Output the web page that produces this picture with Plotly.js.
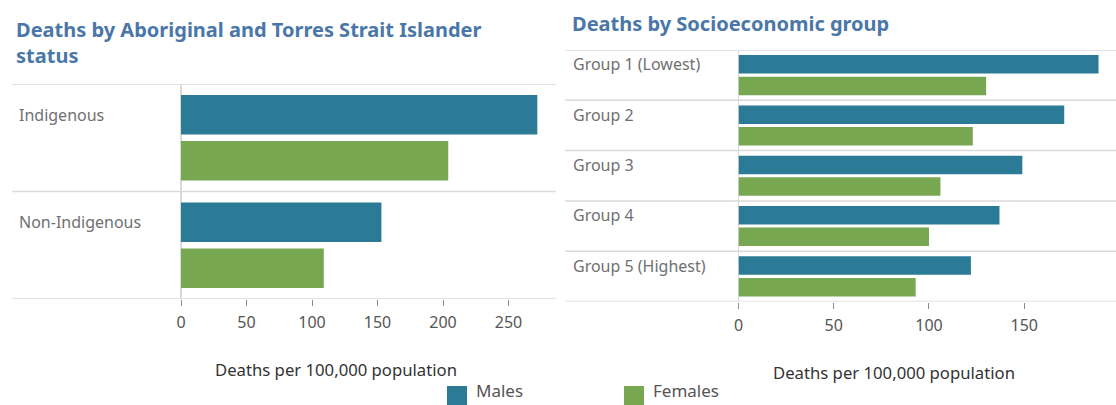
<!DOCTYPE html>
<html>
<head>
<meta charset="utf-8">
<script src="https://cdn.plot.ly/plotly-3.0.1.min.js"></script>
<style>
  html, body { margin: 0; padding: 0; background: #ffffff; }
  #chart { width: 1116px; height: 405px; }
</style>
</head>
<body>
<div id="chart"></div>
<script>
// ---- Data ----
const statusCategories = ['Indigenous', 'Non-Indigenous'];
const statusMales = [272, 153];
const statusFemales = [204, 109];

const sesCategories = ['Group 1 (Lowest)', 'Group 2', 'Group 3', 'Group 4', 'Group 5 (Highest)'];
const sesMales = [189, 171, 149, 137, 122];
const sesFemales = [130, 123, 106, 100, 93];

const leftTicks = [0, 50, 100, 150, 200, 250];
const rightTicks = [0, 50, 100, 150];

const seriesNames = ['Males', 'Females'];
const leftTitle = 'Deaths by Aboriginal and Torres Strait Islander<br>status';
const rightTitle = 'Deaths by Socioeconomic group';
const axisTitle = 'Deaths per 100,000 population';

// ---- Style ----
const W = 1116, H = 405;
const FONT = 'Noto Sans, Open Sans, sans-serif';
const MALE = '#2b7b96';
const FEMALE = '#78a752';
const GRID = '#dadada';
const px = v => v / W;
const py = v => 1 - v / H;

const traces = [
  { type: 'bar', orientation: 'h', name: seriesNames[0], y: statusCategories, x: statusMales,
    xaxis: 'x', yaxis: 'y', marker: { color: MALE }, showlegend: false, hoverinfo: 'x+y' },
  { type: 'bar', orientation: 'h', name: seriesNames[1], y: statusCategories, x: statusFemales,
    xaxis: 'x', yaxis: 'y', marker: { color: FEMALE }, showlegend: false, hoverinfo: 'x+y' },
  { type: 'bar', orientation: 'h', name: seriesNames[0], y: sesCategories, x: sesMales,
    xaxis: 'x2', yaxis: 'y2', marker: { color: MALE }, showlegend: false, hoverinfo: 'x+y' },
  { type: 'bar', orientation: 'h', name: seriesNames[1], y: sesCategories, x: sesFemales,
    xaxis: 'x2', yaxis: 'y2', marker: { color: FEMALE }, showlegend: false, hoverinfo: 'x+y' }
];

const xCommon = {
  showgrid: false, showline: false,
  zeroline: true, zerolinecolor: GRID, zerolinewidth: 1.5,
  ticks: 'outside', ticklen: 6, tickwidth: 1, tickcolor: '#8a8a8a',
  ticklabelstandoff: 3,
  tickfont: { family: FONT, size: 16, color: '#555555' },
  tickmode: 'array', fixedrange: true
};

const shapes = [];
const annotations = [];

// row separators (category boundaries) extended across the label area
function separators(cats, yref, x0, x1) {
  for (let i = 0; i <= cats.length; i++) {
    shapes.push({ type: 'line', xref: 'paper', yref: yref, x0: x0, x1: x1,
      y0: i - 0.5, y1: i - 0.5, line: { color: GRID, width: 1.5 } });
  }
}
separators(statusCategories, 'y', px(12), px(556));
separators(sesCategories, 'y2', px(565), 1);

// category labels next to the top (male) bar of each row
const maleOffset = -0.215;
const catFont = { family: FONT, size: 16, color: '#707070' };
statusCategories.forEach((c, i) => annotations.push({
  xref: 'paper', yref: 'y', x: px(17), y: i + maleOffset, text: c, showarrow: false,
  xanchor: 'left', yanchor: 'middle', font: catFont
}));
sesCategories.forEach((c, i) => annotations.push({
  xref: 'paper', yref: 'y2', x: px(571), y: i + maleOffset, text: c, showarrow: false,
  xanchor: 'left', yanchor: 'middle', font: catFont
}));

// chart titles
annotations.push({ xref: 'paper', yref: 'paper', x: px(14), y: py(14), text: '<b>' + leftTitle + '</b>',
  showarrow: false, xanchor: 'left', yanchor: 'top', align: 'left',
  font: { family: FONT, size: 20, color: '#4a77a8' } });
annotations.push({ xref: 'paper', yref: 'paper', x: px(570), y: py(8), text: '<b>' + rightTitle + '</b>',
  showarrow: false, xanchor: 'left', yanchor: 'top', align: 'left',
  font: { family: FONT, size: 20, color: '#4a77a8' } });

// axis titles
const axTitleFont = { family: FONT, size: 16.7, color: '#333333' };
annotations.push({ xref: 'paper', yref: 'paper', x: px(336), y: py(369), text: axisTitle,
  showarrow: false, xanchor: 'center', yanchor: 'middle', font: axTitleFont });
annotations.push({ xref: 'paper', yref: 'paper', x: px(894), y: py(372), text: axisTitle,
  showarrow: false, xanchor: 'center', yanchor: 'middle', font: axTitleFont });

// legend
const legendItems = [
  { name: seriesNames[0], color: MALE, x: 447 },
  { name: seriesNames[1], color: FEMALE, x: 624 }
];
legendItems.forEach(it => {
  shapes.push({ type: 'rect', xref: 'paper', yref: 'paper', x0: px(it.x), x1: px(it.x + 20),
    y0: py(405), y1: py(386), fillcolor: it.color, line: { width: 0 } });
  annotations.push({ xref: 'paper', yref: 'paper', x: px(it.x + 27), y: py(404), text: it.name,
    showarrow: false, xanchor: 'left', yanchor: 'bottom', font: { family: FONT, size: 17, color: '#555555' } });
});

const layout = {
  width: W, height: H,
  margin: { l: 0, r: 0, t: 0, b: 0 },
  paper_bgcolor: '#ffffff', plot_bgcolor: '#ffffff',
  barmode: 'group', bargap: 0.14, bargroupgap: 0.145,
  showlegend: false,
  font: { family: FONT },
  xaxis: Object.assign({}, xCommon, { domain: [px(181), px(555)], range: [0, 285.5],
    tickvals: leftTicks, anchor: 'y' }),
  yaxis: { domain: [py(299), py(84)], type: 'category', range: [statusCategories.length - 0.5, -0.5],
    showticklabels: false, ticks: '', showgrid: false, zeroline: false, showline: false, anchor: 'x', fixedrange: true },
  xaxis2: Object.assign({}, xCommon, { domain: [px(738.5), px(1113)], range: [0, 196.6],
    tickvals: rightTicks, anchor: 'y2' }),
  yaxis2: { domain: [py(301.5), py(50)], type: 'category', range: [sesCategories.length - 0.5, -0.5],
    showticklabels: false, ticks: '', showgrid: false, zeroline: false, showline: false, anchor: 'x2', fixedrange: true },
  shapes: shapes,
  annotations: annotations
};

Plotly.newPlot('chart', traces, layout, { displayModeBar: false, staticPlot: true });
</script>
</body>
</html>
